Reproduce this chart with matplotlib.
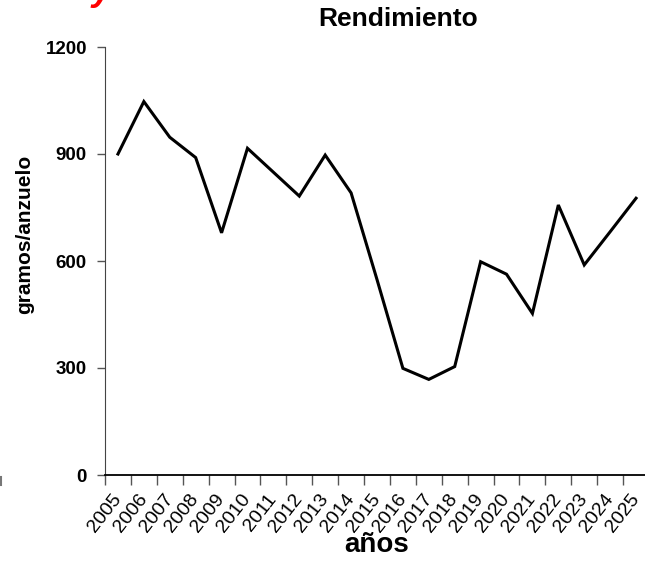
import matplotlib
matplotlib.use("Agg")
import matplotlib.pyplot as plt
from matplotlib.lines import Line2D
from matplotlib.transforms import ScaledTranslation

plt.rcParams['font.family'] = ['Liberation Sans', 'DejaVu Sans']

years = [str(y) for y in range(2005, 2026)]
rendimiento = [900, 1047, 947, 890, 679, 916, 849, 782, 897, 791, 548,
               299, 268, 304, 598, 563, 453, 757, 589, 682, 776]
yticks = [0, 300, 600, 900, 1200]

W, H = 645, 566
fig = plt.figure(figsize=(W / 100, H / 100), dpi=100)
ax = fig.add_axes([105 / W, 1 - 475 / H, (649 - 105) / W, (475 - 47) / H])

x = list(range(len(years)))
ax.plot(x, rendimiento, color='black', linewidth=2.2, solid_joinstyle='miter')

ax.set_xlim(-0.5, len(years) - 0.5)
ax.set_ylim(0, 1200)
ax.set_yticks(yticks)
ax.set_yticklabels([str(v) for v in yticks], fontsize=13.5, fontweight='bold')

ax.set_xticks([i - 0.5 for i in range(len(years) + 1)])
ax.set_xticklabels([])
ax.set_xticks(x, minor=True)
labels = ax.set_xticklabels(years, minor=True, rotation=52, ha='right', va='center',
                            rotation_mode='anchor', fontsize=14)
shift = ScaledTranslation(9 / 100, 0, fig.dpi_scale_trans)
for lab in labels:
    lab.set_transform(lab.get_transform() + shift)
ax.tick_params(axis='x', which='minor', length=0, pad=15)
ax.tick_params(axis='x', which='major', length=7, width=1, color='#555555')
ax.tick_params(axis='y', length=6, width=1, color='#555555', pad=7)

for s in ['top', 'right']:
    ax.spines[s].set_visible(False)
ax.spines['left'].set_color('#444444')
ax.spines['bottom'].set_color('black')
ax.spines['bottom'].set_linewidth(1.3)

fig.text(398 / W, 1 - 19 / H, 'Rendimiento', ha='center', va='center',
         fontsize=19, fontweight='bold')
fig.text(25 / W, 1 - 234 / H, 'gramos/anzuelo', ha='center', va='center',
         rotation=90, fontsize=15, fontweight='bold')
fig.text(377 / W, 1 - 545 / H, 'años', ha='center', va='center',
         fontsize=20, fontweight='bold')
fig.text(91 / W, 1.0, 'y', ha='left', va='baseline', fontsize=26,
         fontweight='bold', style='italic', color='red')
fig.add_artist(Line2D([0.5 / W, 0.5 / W], [1 - 477 / H, 1 - 485 / H],
                      color='#777777', linewidth=1.5))

fig.savefig('out.png', dpi=100)
